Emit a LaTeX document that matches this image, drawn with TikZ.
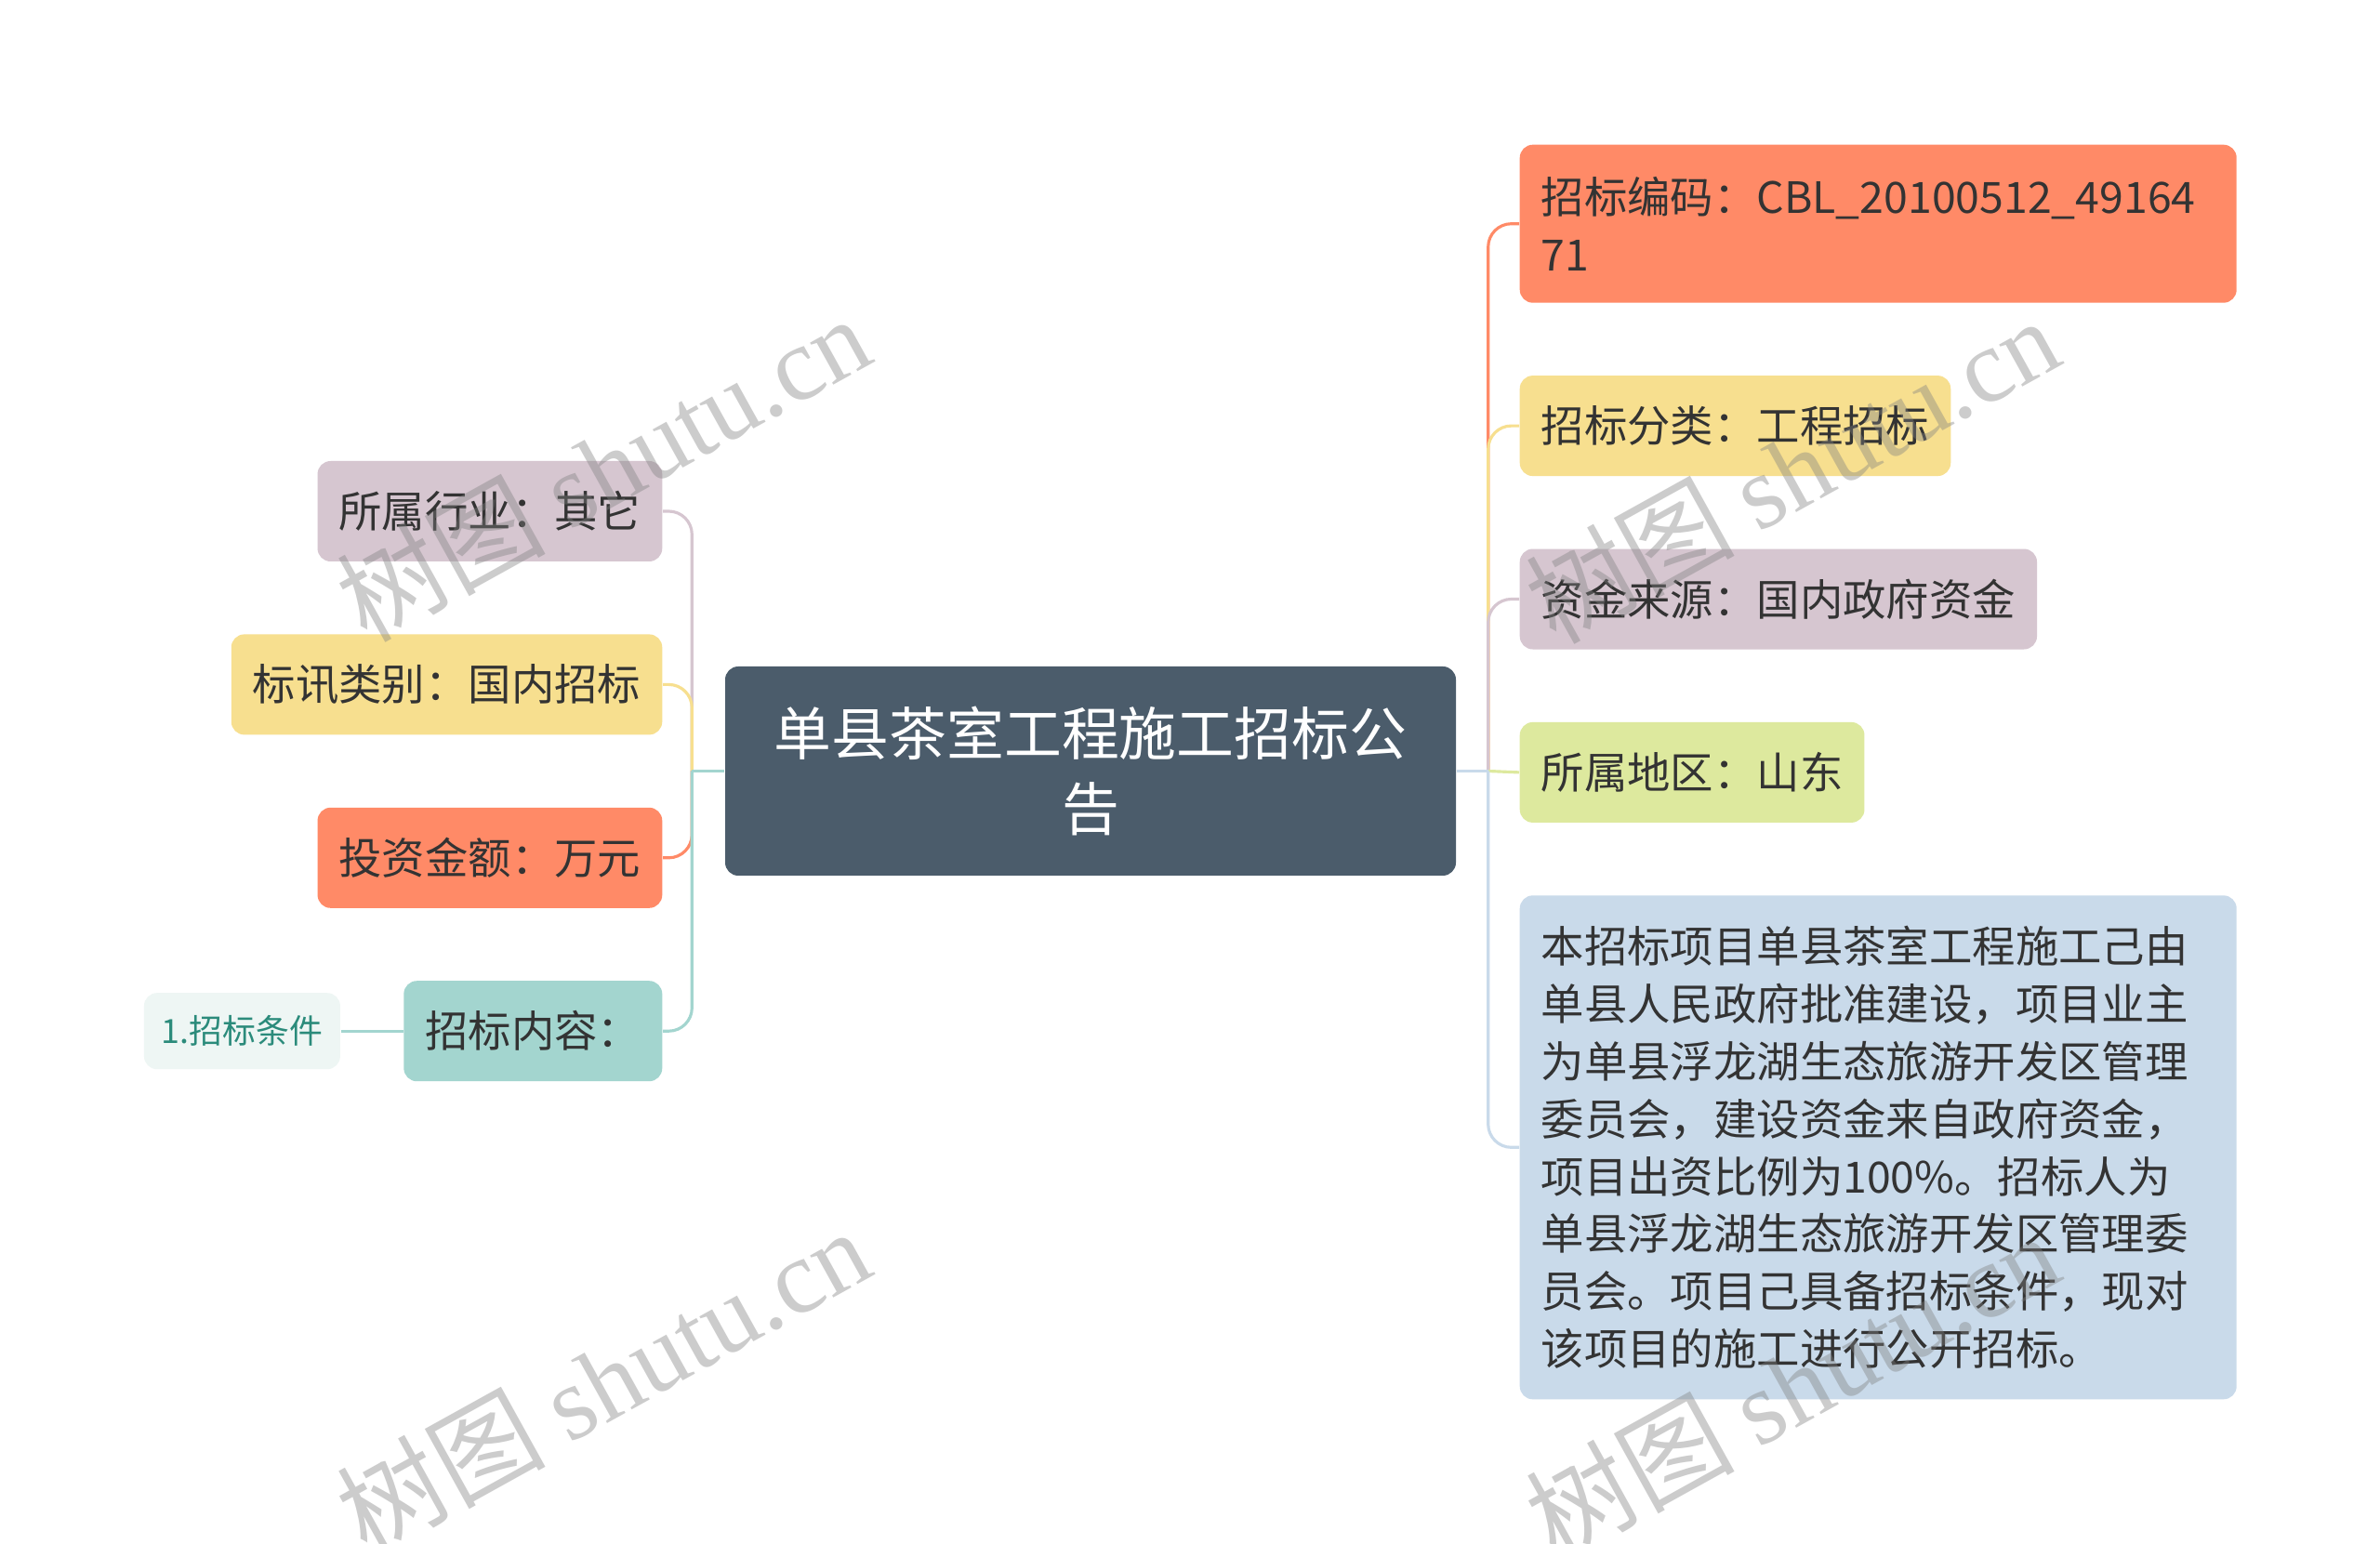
\documentclass[tikz,border=0pt]{standalone}
\usepackage{fontspec}
\setmainfont{Noto Sans CJK SC}
\newfontfamily\wmlatin{Liberation Serif}
\usetikzlibrary{positioning}
\definecolor{mmroot}{RGB}{75,92,107}
\definecolor{mmpink}{RGB}{214,198,208}
\definecolor{mmyellow}{RGB}{247,223,143}
\definecolor{mmorange}{RGB}{255,138,103}
\definecolor{mmteal}{RGB}{163,213,207}
\definecolor{mmgreen}{RGB}{221,233,158}
\definecolor{mmblue}{RGB}{201,218,234}
\definecolor{mmpale}{RGB}{238,246,244}
\definecolor{mmtext}{RGB}{51,51,51}
\definecolor{mmdark}{RGB}{43,139,123}
\newcommand\mmsize{\fontsize{13.2pt}{17.6pt}\selectfont}
\newcommand\mmbig{\fontsize{17.6pt}{23.2pt}\selectfont}
\newcommand\mmsmall{\fontsize{10.2pt}{13pt}\selectfont}
\tikzset{
  mmnode/.style={
    rounded corners=4pt,
    align=left,
    minimum height=10.8mm,
    inner xsep=2.3mm,
    inner ysep=2.3mm,
    font=\mmsize,
    text=mmtext
  },
  mmmain/.style={mmnode, fill=mmroot, text=white, align=center, font=\mmbig,
    minimum width=78.6mm, minimum height=22.5mm},
  mmpinkbox/.style={mmnode, fill=mmpink},
  mmyellowbox/.style={mmnode, fill=mmyellow},
  mmorangebox/.style={mmnode, fill=mmorange},
  mmtealbox/.style={mmnode, fill=mmteal},
  mmgreenbox/.style={mmnode, fill=mmgreen},
  mmbluebox/.style={mmnode, fill=mmblue},
  mmwide/.style={text width=72.5mm},
  mmleaf/.style={mmnode, fill=mmpale, text=mmdark, font=\mmsmall,
    minimum height=8.2mm, minimum width=21.1mm, inner xsep=1.5mm},
  mmlink/.style={line width=0.9pt, rounded corners=2.5mm},
  wmark/.style={rotate=29, text=black!50, text opacity=0.4,
    font=\fontsize{32pt}{32pt}\selectfont}
}
\begin{document}
\begin{tikzpicture}[node distance=7.7mm and 6.7mm]
\useasboundingbox[fill=white] (0,0) rectangle (25.6,-16.61);
\node[mmmain] (root) at (11.73,-8.295) {单县茶室工程施工招标公\\告};
% left side
\node[mmpinkbox, anchor=east] (ind) at (7.13,-5.50) {所属行业：其它};
\node[mmyellowbox, below=of ind.south east, anchor=north east] (cat) {标讯类别：国内招标};
\node[mmorangebox, below=of cat.south east, anchor=north east] (inv) {投资金额：万元};
\node[mmtealbox, below=of inv.south east, anchor=north east] (cont) {招标内容：};
\node[mmleaf, left=of cont] (cond) {1.招标条件};
% right side
\node[mmorangebox, mmwide, minimum height=17mm, anchor=north west] (code) at (16.34,-1.55)
  {招标编码：CBL\_20100512\_49164\\71};
\node[mmyellowbox, below=of code.south west, anchor=north west] (type) {招标分类：工程招标};
\node[mmpinkbox, below=of type.south west, anchor=north west] (fund) {资金来源：国内政府资金};
\node[mmgreenbox, below=of fund.south west, anchor=north west] (area) {所属地区：山东};
\node[mmbluebox, mmwide, minimum height=54.2mm, below=of area.south west, anchor=north west] (desc)
  {本招标项目单县茶室工程施工己由\\
   单县人民政府批准建设，项目业主\\
   为单县浮龙湖生态旅游开发区管理\\
   委员会，建设资金来自政府资金，\\
   项目出资比例为100\%。招标人为\\
   单县浮龙湖生态旅游开发区管理委\\
   员会。项目己具备招标条件，现对\\
   该项目的施工进行公开招标。};
\coordinate (lbus) at ([xshift=-3.5mm]root.west);
\coordinate (rbus) at ([xshift=3.4mm]root.east);
% connectors
\draw[mmlink, mmpink] (lbus) |- (ind.east);
\draw[mmlink, mmyellow] (lbus) |- (cat.east);
\draw[mmlink, mmorange] (lbus) |- (inv.east);
\draw[mmlink, mmteal] (lbus) |- (cont.east);
\draw[mmlink, mmteal] (root.west) -- (lbus);
\draw[mmlink, mmteal] (cont.west) -- (cond.east);
\draw[mmlink, mmorange] (rbus) |- (code.west);
\draw[mmlink, mmyellow] (rbus) |- (type.west);
\draw[mmlink, mmpink] (rbus) |- (fund.west);
\draw[mmlink, mmgreen] (rbus) -- (area.west);
\draw[mmlink, mmblue] (rbus) |- (desc.west);
\draw[mmlink, mmblue] (root.east) -- (rbus);
% watermarks
\node[wmark] (wm1) at (6.48,-5.03) {树图 {\wmlatin shutu.cn}};
\node[wmark] (wm2) at (6.48,-14.85) {树图 {\wmlatin shutu.cn}};
\node[wmark] (wm3) at (19.27,-5.05) {树图 {\wmlatin shutu.cn}};
\node[wmark] (wm4) at (19.27,-14.90) {树图 {\wmlatin shutu.cn}};
\end{tikzpicture}
\end{document}
